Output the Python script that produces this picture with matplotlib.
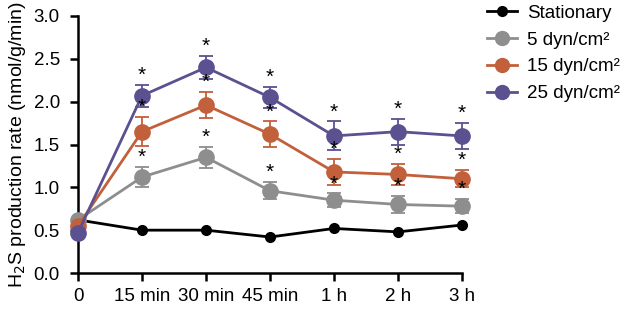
import matplotlib
matplotlib.use("Agg")
import matplotlib.pyplot as plt
from matplotlib.lines import Line2D
import numpy as np

plt.rcParams['font.family'] = ['Liberation Sans', 'DejaVu Sans']

categories = ["0", "15 min", "30 min", "45 min", "1 h", "2 h", "3 h"]
stationary = [0.62, 0.50, 0.50, 0.42, 0.52, 0.48, 0.56]
dyn5 = [0.62, 1.12, 1.35, 0.96, 0.85, 0.80, 0.78]
dyn5_err = [0.0, 0.12, 0.12, 0.10, 0.08, 0.10, 0.08]
dyn15 = [0.55, 1.65, 1.96, 1.62, 1.18, 1.15, 1.10]
dyn15_err = [0.0, 0.17, 0.15, 0.15, 0.15, 0.12, 0.10]
dyn25 = [0.47, 2.07, 2.40, 2.05, 1.60, 1.65, 1.60]
dyn25_err = [0.0, 0.13, 0.13, 0.12, 0.17, 0.15, 0.15]
labels = ["Stationary", "5 dyn/cm²", "15 dyn/cm²", "25 dyn/cm²"]

FS = 13.5
fig = plt.figure(figsize=(6.24, 3.09), dpi=100)
ax = fig.add_axes([78/624, 36/309, 384/624, 257/309])
x = np.arange(len(categories))

handles = []
ax.plot(x, stationary, color='black', lw=2, marker='o', ms=7, clip_on=False, zorder=3)
handles.append(Line2D([], [], color='black', lw=2, marker='o', ms=7))
series = [(dyn5, dyn5_err, '#8e8e8e'), (dyn15, dyn15_err, '#c1603a'), (dyn25, dyn25_err, '#5b5090')]
for i, (vals, err, col) in enumerate(series):
    ax.errorbar(x, vals, yerr=err, color=col, lw=2, marker='o', ms=11, capsize=5, elinewidth=1.3,
                capthick=1.3, clip_on=False, zorder=3 + i)
    handles.append(Line2D([], [], color=col, lw=2, marker='o', ms=10))
    for xi, v, e in zip(x[1:], vals[1:], err[1:]):
        ax.text(xi, v + e + 0.0, '*', ha='center', va='bottom', fontsize=15, color='black', zorder=10)

ax.set_xlim(0, 6)
ax.set_ylim(0, 3.0)
ax.set_yticks(np.arange(0, 3.01, 0.5))
ax.set_yticklabels([f"{v:.1f}" for v in np.arange(0, 3.01, 0.5)])
ax.set_xticks(x)
ax.set_xticklabels(categories)
for s in ['top', 'right']:
    ax.spines[s].set_visible(False)
for s in ['left', 'bottom']:
    ax.spines[s].set_linewidth(1.8)
ax.tick_params(axis='both', width=1.8, length=6, labelsize=FS, direction='out')
ax.tick_params(axis='x', pad=5)
ax.tick_params(axis='y', pad=7)
ax.set_ylabel("H$_2$S production rate (nmol/g/min)", fontsize=FS + 0.5, labelpad=4)

ax.legend(handles, labels, loc='upper left', bbox_to_anchor=(470/624, 1.04), bbox_transform=fig.transFigure,
          frameon=False, fontsize=FS, handlelength=1.6, handletextpad=0.55, labelspacing=0.52)

fig.savefig("out.png", dpi=100)
